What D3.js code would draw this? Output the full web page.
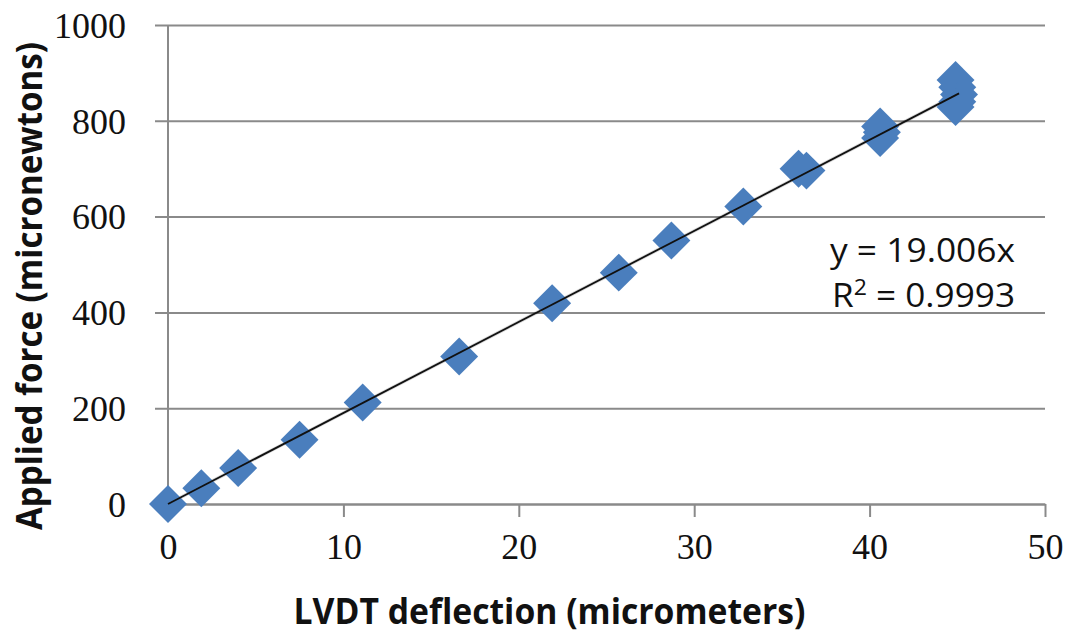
<!DOCTYPE html>
<html>
<head>
<meta charset="utf-8">
<script src="https://cdn.jsdelivr.net/npm/d3@7"></script>
<style>
  body { margin: 0; background: #fff; }
  .axis path, .axis line { stroke: #8a8a8a; stroke-width: 2; }
  .axis text { font-family: "Liberation Serif", serif; font-size: 36px; fill: #111; }
  .title { font-family: "Open Sans", sans-serif; font-weight: bold; font-size: 35px; fill: #111; }
  .eq { font-family: "Open Sans", sans-serif; font-size: 32px; fill: #111; }
</style>
</head>
<body>
<div id="chart"></div>
<script>
// data
let deflection = [0, 1.9, 4.0, 7.5, 11.1, 16.6, 21.9, 25.7, 28.7, 32.8, 35.95, 36.4, 40.6, 40.7, 40.6, 44.9, 45.0, 45.1, 45.0, 44.9]
let force = [0, 33, 75, 134, 212, 308, 419, 483, 550, 621, 700, 696, 788, 776, 764, 885, 870, 855, 840, 829]
let xTicks = [0, 10, 20, 30, 40, 50]
let yTicks = [0, 200, 400, 600, 800, 1000]
let slope = 19.006
let eqLines = ["y = 19.006x", "0.9993"]

let width = 1066, height = 634
let margin = {top: 25, right: 21, bottom: 130, left: 168}

let svg = d3.select("#chart").append("svg")
  .attr("width", width)
  .attr("height", height)

let x = d3.scaleLinear().domain([0, 50]).range([margin.left, width - margin.right])
let y = d3.scaleLinear().domain([0, 1000]).range([height - margin.bottom, margin.top])

// horizontal gridlines + y axis (ticks stick out left)
let yAxis = d3.axisLeft(y)
  .tickValues(yTicks)
  .tickFormat(d3.format("d"))
  .tickSize(-(x(50) - x(0)))
  .tickSizeOuter(0)
  .tickPadding(42)
let yg = svg.append("g")
  .attr("class", "y axis")
  .attr("transform", "translate(" + x(0) + ",0)")
  .call(yAxis)
yg.select(".domain").remove()
yg.selectAll(".tick line").attr("x1", -13)
yg.selectAll(".tick text").attr("dy", "0.34em")
svg.append("line")
  .attr("x1", x(0)).attr("x2", x(0))
  .attr("y1", y(1000)).attr("y2", y(0) + 13)
  .attr("stroke", "#8a8a8a").attr("stroke-width", 2)

// x axis
let xAxis = d3.axisBottom(x)
  .tickValues(xTicks)
  .tickSize(13)
  .tickSizeOuter(0)
  .tickPadding(42)
svg.append("g")
  .attr("class", "x axis")
  .attr("transform", "translate(0," + y(0) + ")")
  .call(xAxis)
  .selectAll(".tick text").attr("dy", "0")

// trendline shadow
let xMax = d3.max(deflection)
svg.append("line")
  .attr("x1", x(0)).attr("y1", y(0))
  .attr("x2", x(xMax)).attr("y2", y(slope * xMax))
  .attr("stroke", "#000").attr("stroke-width", 3.5).attr("stroke-opacity", 0.15)
// points
let diamond = d3.symbol(d3.symbolSquare, 720)
svg.selectAll(".point")
  .data(deflection.map((d, i) => ({x: d, y: force[i]})))
  .enter().append("path")
  .attr("class", "point")
  .attr("d", diamond)
  .attr("transform", d => "translate(" + x(d.x) + "," + y(d.y) + ") rotate(45)")
  .attr("fill", "#4a7ebd")
svg.append("line")
  .attr("x1", x(0)).attr("y1", y(0))
  .attr("x2", x(xMax)).attr("y2", y(slope * xMax))
  .attr("stroke", "#111").attr("stroke-width", 1.8)

// equation label
let eq = svg.append("g").attr("class", "eq")
eq.append("text").attr("x", 830).attr("y", 262)
  .attr("textLength", 185).attr("lengthAdjust", "spacingAndGlyphs")
  .text(eqLines[0])
let r2 = eq.append("text").attr("x", 832).attr("y", 307)
  .attr("textLength", 183).attr("lengthAdjust", "spacingAndGlyphs")
r2.append("tspan").text("R")
r2.append("tspan").attr("dy", -12).attr("font-size", "21px").text("2")
r2.append("tspan").attr("dy", 12).text(" = " + eqLines[1])

// axis titles
svg.append("text")
  .attr("class", "title")
  .attr("x", (x(0) + x(50)) / 2 - 57)
  .attr("y", 624)
  .attr("text-anchor", "middle")
  .attr("textLength", 512)
  .attr("lengthAdjust", "spacingAndGlyphs")
  .text("LVDT deflection (micrometers)")

svg.append("text")
  .attr("class", "title")
  .attr("transform", "translate(42,286) rotate(-90)")
  .attr("text-anchor", "middle")
  .attr("textLength", 488)
  .attr("lengthAdjust", "spacingAndGlyphs")
  .text("Applied force (micronewtons)")
</script>
</body>
</html>
